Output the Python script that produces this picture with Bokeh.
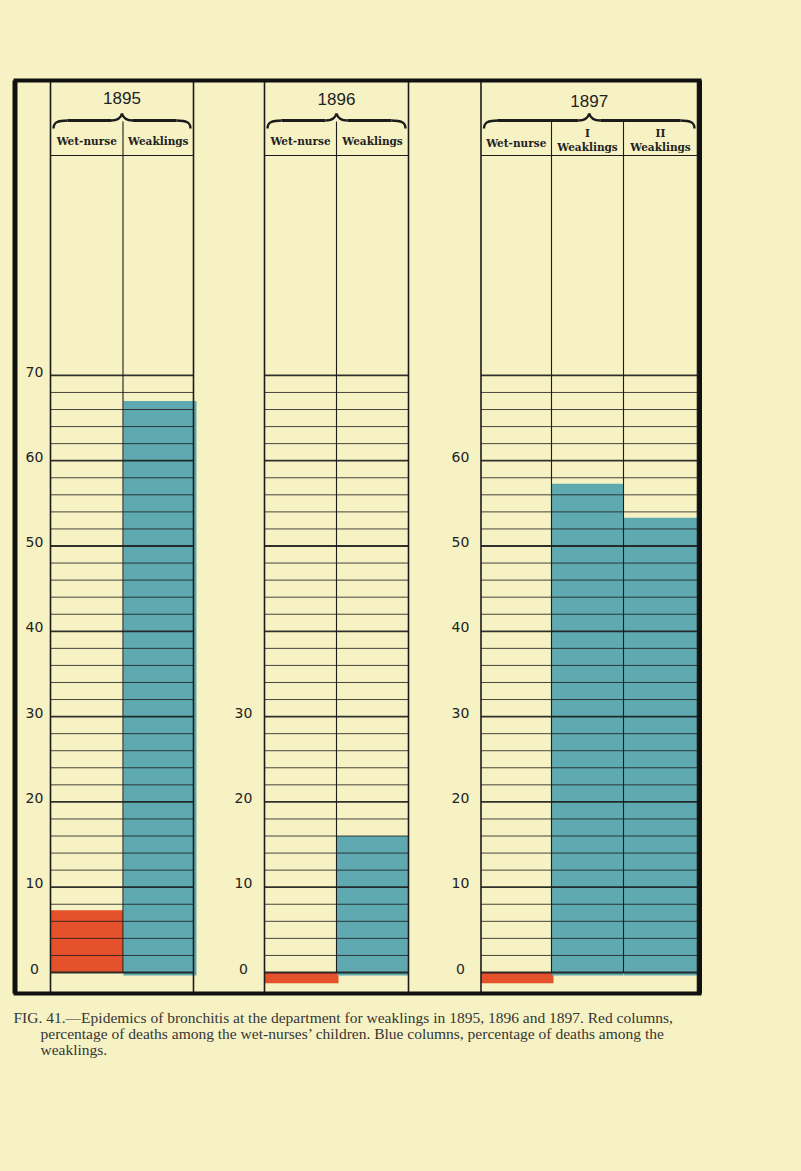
from bokeh.plotting import figure
from bokeh.models import Range1d
from bokeh.core.properties import value
from bokeh.embed import file_html
from bokeh.resources import INLINE

# ---------------- data (percent of deaths) ----------------
years = ["1895", "1896", "1897"]
column_names = ["Wet-nurse", "Weaklings", "Wet-nurse", "Weaklings",
                "Wet-nurse", "I Weaklings", "II Weaklings"]
column_year = ["1895", "1895", "1896", "1896", "1897", "1897", "1897"]
column_kind = ["wet", "weak", "wet", "weak", "wet", "weak", "weak"]
death_pct = [7.3, 67.0, 0.0, 16.0, 0.0, 57.3, 53.3]
left_ticks = [0, 10, 20, 30, 40, 50, 60, 70]
gap1_ticks = [0, 10, 20, 30]
gap2_ticks = [0, 10, 20, 30, 40, 50, 60]
caption_lines = [
    "FIG. 41.\u2014Epidemics of bronchitis at the department for weaklings in 1895, 1896 and 1897.   Red columns,",
    "percentage of deaths among the wet-nurses\u2019 children.   Blue columns, percentage of deaths among the",
    "weaklings.",
]

# ---------------- layout / style ----------------
BG = "#f6f2c4"
INK = "#1c1c1c"
RED = "#e4512b"
BLUE = "#5eaab0"
Y0, K = 972.0, 8.53          # page y of value 0, pixels per percent


def vy(page_y):
    return (Y0 - page_y) / K


W, H = 785, 1155
p = figure(width=W, height=H, x_range=Range1d(8, 8 + W),
           y_range=Range1d(vy(8 + H), vy(8)),
           output_backend="svg", toolbar_location=None, min_border=0,
           x_axis_location=None, y_axis_location=None,
           background_fill_color=BG, border_fill_color=BG,
           outline_line_color=None)
p.grid.visible = False

panels = {"1895": [50, 122.5, 193], "1896": [264, 336, 408],
          "1897": [480.5, 551, 623, 697]}
col_edges = []
for y in years:
    e = panels[y]
    for i in range(len(e) - 1):
        col_edges.append((e[i], e[i + 1]))

ZERO_STRIP = 1.25
lefts, rights, tops, bottoms, colors = [], [], [], [], []
for (l, r), kind, v in zip(col_edges, column_kind, death_pct):
    lefts.append(l + (0.5 if kind == "weak" else 0))
    rights.append(r + (3 if (kind == "weak" and l < 200) else (2 if kind == "wet" and v == 0 else 0)))
    if v == 0:
        tops.append(0)
        bottoms.append(-ZERO_STRIP)
    else:
        tops.append(v)
        bottoms.append(-0.35 if kind == "weak" else 0)
    colors.append(RED if kind == "wet" else BLUE)
p.quad(left=lefts, right=rights, top=tops, bottom=bottoms, fill_color=colors,
       line_color=None)

# grid lines every 2 percent inside each panel
gx0, gx1, gy, gw = [], [], [], []
for y in years:
    e = panels[y]
    for v in range(0, 72, 2):
        gx0.append(e[0]); gx1.append(e[-1]); gy.append(v)
        gw.append(1.8 if v % 10 == 0 else 0.9)
p.segment(x0=gx0, y0=gy, x1=gx1, y1=gy, line_color=INK, line_width=gw, line_alpha=0.9)

# verticals
vx, vy0, vy1, vw = [], [], [], []
for y in years:
    e = panels[y]
    for xx in (e[0], e[-1]):
        vx.append(xx); vy0.append(vy(80)); vy1.append(vy(993)); vw.append(1.6)
    for xx in e[1:-1]:
        vx.append(xx); vy0.append(vy(121)); vy1.append(0); vw.append(1.1)
p.segment(x0=vx, y0=vy0, x1=vx, y1=vy1, line_color=INK, line_width=vw)
# header separators
p.segment(x0=[panels[y][0] for y in years], x1=[panels[y][-1] for y in years],
          y0=[vy(155)] * 3, y1=[vy(155)] * 3, line_color=INK, line_width=1.0)

# frame
p.segment(x0=[13, 13, 14.5, 699.5], x1=[701, 701, 14.5, 699.5],
          y0=[vy(80), vy(993), vy(80), vy(80)], y1=[vy(80), vy(993), vy(993), vy(993)],
          line_color="#111111", line_width=[4, 4, 5, 4])

# braces
bx0, by0, bx1, by1, bcx0, bcy0, bcx1, bcy1 = ([] for _ in range(8))
sx0, sx1, sy = [], [], []
for y in years:
    L, R = panels[y][0] + 3, panels[y][-1] - 3
    C = (panels[y][0] + panels[y][-1]) / 2
    for s in (1, -1):
        E = L if s == 1 else R
        bx0.append(E); by0.append(vy(128)); bx1.append(E + s * 14); by1.append(vy(120))
        bcx0.append(E); bcy0.append(vy(122)); bcx1.append(E + s * 4); bcy1.append(vy(120))
        bx0.append(C - s * 11); by0.append(vy(120)); bx1.append(C); by1.append(vy(113))
        bcx0.append(C - s * 4); bcy0.append(vy(120)); bcx1.append(C - s * 1); bcy1.append(vy(117))
        sx0.append(E + s * 14); sx1.append(C - s * 11); sy.append(vy(120))
p.bezier(x0=bx0, y0=by0, x1=bx1, y1=by1, cx0=bcx0, cy0=bcy0, cx1=bcx1, cy1=bcy1,
         line_color=INK, line_width=2.4)
p.segment(x0=sx0, x1=sx1, y0=sy, y1=sy, line_color=INK, line_width=2.8)

# year labels
p.text(x=[(panels[y][0] + panels[y][-1]) / 2 for y in years],
       y=[vy(97), vy(98), vy(100)], text=years,
       text_font=value("Liberation Sans"), text_font_size="17px",
       text_color="#222222", text_align="center", text_baseline="middle")

# column headers
hx, hy, ht = [], [], []
for (l, r), name, yr in zip(col_edges, column_names, column_year):
    c = (l + r) / 2
    if yr != "1897":
        hx.append(c); hy.append(vy(140)); ht.append(name)
    elif name.startswith("I"):
        roman, word = name.split(" ")
        hx += [c, c]; hy += [vy(132), vy(146)]; ht += [roman, word]
    else:
        hx.append(c); hy.append(vy(142)); ht.append(name)
p.text(x=hx, y=hy, text=ht, text_font=value("DejaVu Serif"), text_font_style="bold",
       text_font_size="10.5px", text_color="#222222", text_align="center",
       text_baseline="middle")

# scale labels
for cx, ticks in ((34, left_ticks), (243, gap1_ticks), (460, gap2_ticks)):
    p.text(x=[cx] * len(ticks), y=[t + 0.45 for t in ticks], text=[str(t) for t in ticks],
           text_font=value("DejaVu Sans"), text_font_size="14px", text_color="#222222",
           text_align="center", text_baseline="middle")

# caption
p.text(x=[13, 40, 40], y=[vy(1017), vy(1033), vy(1049)], text=caption_lines,
       text_font=value("Liberation Serif"), text_font_size="15.5px", text_color="#353535",
       text_align="left", text_baseline="middle")

TEMPLATE = """{% block preamble %}<style>html, body { background: #f6f2c4; } body { margin: 8px !important; }</style>{% endblock %}"""
open("out.html", "w").write(file_html(p, INLINE, title="Fig. 41", template=TEMPLATE))
